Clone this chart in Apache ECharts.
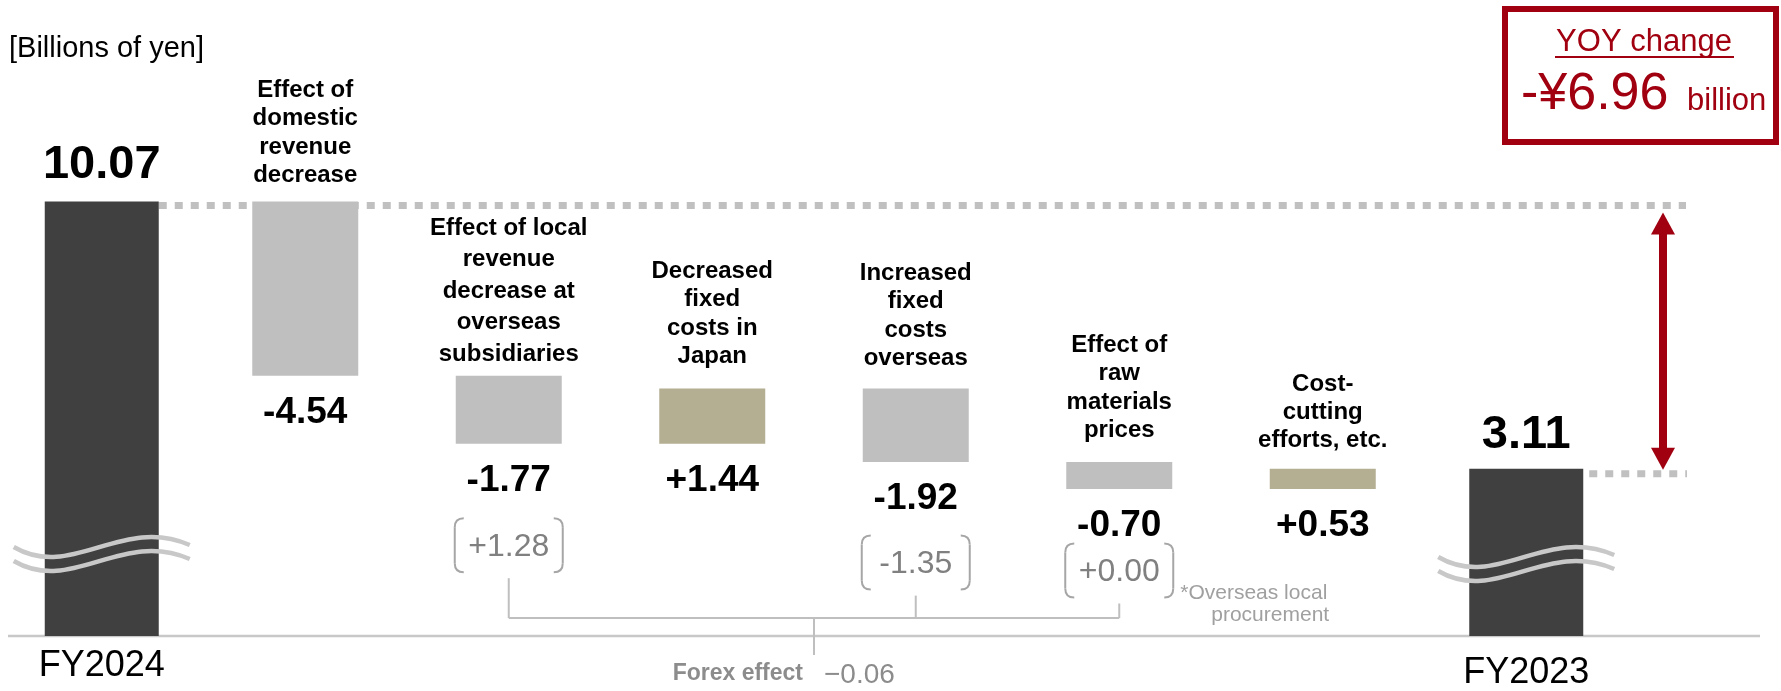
<!DOCTYPE html>
<html><head><meta charset="utf-8">
<script src="https://cdn.jsdelivr.net/npm/echarts@6/dist/echarts.min.js"></script>
<style>html,body{margin:0;padding:0;background:#fff}#c{width:1781px;height:691px}</style>
</head><body><div id="c"></div>
<script>
// ---------- data ----------
const categories = ['FY2024','Effect of\ndomestic\nrevenue\ndecrease','Effect of local\nrevenue\ndecrease at\noverseas\nsubsidiaries','Decreased\nfixed\ncosts in\nJapan','Increased\nfixed\ncosts\noverseas','Effect of\nraw\nmaterials\nprices','Cost-\ncutting\nefforts, etc.','FY2023'];
const startValue = 10.07;
const endValue = 3.11;
const deltas = [-4.54, -1.77, 1.44, -1.92, -0.70, 0.53];
const forexIndex = [2, 4, 5];
const forexValues = ['+1.28', '-1.35', '+0.00'];
const forexLabel = 'Forex effect';
const forexTotal = '\u22120.06';
const yoyTitle = 'YOY change';
const yoyValue = '-\u00a56.96';
const yoyUnit = 'billion';
const unitLabel = '[Billions of yen]';
const noteLines = ['*Overseas local', 'procurement'];

// ---------- layout / style ----------
const Y_MIN = -1.25, Y_MAX = 13;
const FONT = '"Liberation Sans", Arial, Helvetica, sans-serif';
const labelGap = [0, 17, 13, 23, 21, 23, 20, 0];
const labelLineHeight = [28.5, 28.5, 31.5, 28.5, 28.5, 28.5, 28, 28];
const totalLabelGap = [36, 0, 0, 0, 0, 0, 0, 34];
const bracketOffset = [64.5, 63.5, 44.5];
const RED = '#a0000f';

// ---------- build waterfall ----------
const barData = [];
barData.push([0, Y_MIN, startValue, 0]);
let run = startValue;
deltas.forEach((d, k) => {
  const next = +(run + d).toFixed(2);
  barData.push([k + 1, Math.min(run, next), Math.max(run, next), d]);
  run = next;
});
barData.push([categories.length - 1, Y_MIN, endValue, 0]);

function fmt(d) { return (d > 0 ? '+' : '-') + Math.abs(d).toFixed(2); }

function renderItem(params, api) {
  const i = api.value(0), lo = api.value(1), hi = api.value(2), d = api.value(3);
  const top = api.coord([i, hi]), bot = api.coord([i, lo]);
  const cx = top[0];
  const total = (i === 0 || i === categories.length - 1);
  const w = total ? 114 : 106;
  const color = total ? '#404040' : (d < 0 ? '#bfbfbf' : '#b4ae92');
  const children = [{
    type: 'rect', shape: { x: cx - w / 2, y: top[1], width: w, height: bot[1] - top[1] },
    style: { fill: color }
  }];
  if (total) {
    children.push({ type: 'text', x: cx, y: top[1] - totalLabelGap[i],
      style: { text: hi.toFixed(2), fontFamily: FONT, fontSize: 47, fontWeight: 'bold', fill: '#000', align: 'center', verticalAlign: 'middle' } });
  } else {
    const L = labelLineHeight[i];
    children.push({ type: 'text', x: cx, y: top[1] - labelGap[i] + L / 2 - 8.6,
      style: { text: categories[i], fontFamily: FONT, fontSize: 24, fontWeight: 'bold', lineHeight: L, fill: '#000', align: 'center', verticalAlign: 'bottom' } });
    children.push({ type: 'text', x: cx, y: bot[1] + 37,
      style: { text: fmt(d), fontFamily: FONT, fontSize: 37, fontWeight: 'bold', fill: '#000', align: 'center', verticalAlign: 'middle' } });
  }
  return { type: 'group', children };
}

const chart = echarts.init(document.getElementById('c'), null, { renderer: 'canvas' });
const option = {
  animation: false,
  backgroundColor: '#fff',
  grid: { left: 0, right: 153, top: 89, bottom: 53, containLabel: false },
  xAxis: {
    type: 'category', data: categories,
    axisLine: { show: false }, axisTick: { show: false }, splitLine: { show: false },
    axisLabel: {
      interval: 0, margin: 12,
      formatter: (v, i) => i === 0 ? '{a|' + v + '}' : (i === categories.length - 1 ? '{b|' + v + '}' : ''),
      rich: {
        a: { fontSize: 36, fontFamily: FONT, color: '#000', lineHeight: 36 },
        b: { fontSize: 36, fontFamily: FONT, color: '#000', lineHeight: 50 }
      }
    }
  },
  yAxis: { type: 'value', min: Y_MIN, max: Y_MAX, show: false },
  series: [{
    type: 'custom', renderItem, data: barData, z: 5,
    encode: { x: 0, y: [1, 2] }
  }]
};
chart.setOption(option);

// ---------- annotations ----------
const px = (i, v) => chart.convertToPixel({ gridIndex: 0 }, [i, v]);
const axisY = px(0, Y_MIN)[1];
const g = [];
const GRAYLINE = '#bfbfbf';
function seg(x1, y1, x2, y2, stroke, lw, z, dash) {
  const st = { stroke, lineWidth: lw };
  if (dash) st.lineDash = dash;
  g.push({ type: 'line', z, shape: { x1, y1, x2, y2 }, style: st });
}
function curve(x1, y1, cpx1, cpy1, cpx2, cpy2, x2, y2, stroke, lw, z) {
  const shape = { x1, y1, x2, y2, cpx1, cpy1 };
  if (cpx2 !== null) { shape.cpx2 = cpx2; shape.cpy2 = cpy2; }
  g.push({ type: 'bezierCurve', z, shape, style: { stroke, lineWidth: lw, fill: null } });
}
// axis baseline
seg(8, axisY, 1760, axisY, '#c8c8c8', 2.5, 1);
// dotted reference lines
const pS = px(0, startValue), pE = px(categories.length - 1, endValue);
seg(pS[0] + 57, pS[1] + 4, 1686, pS[1] + 4, '#c0c0c0', 7, 1, [8, 8]);
seg(pE[0] + 63, pE[1] + 5, 1687, pE[1] + 5, '#c0c0c0', 7, 1, [8, 8]);
// double arrow
const ax = 1663, aTop = pS[1] + 11, aBot = pE[1] + 1;
g.push({ type: 'rect', z: 10, shape: { x: ax - 4, y: aTop + 20, width: 8, height: aBot - aTop - 40 }, style: { fill: RED } });
g.push({ type: 'polygon', z: 10, shape: { points: [[ax, aTop], [ax - 12, aTop + 22], [ax + 12, aTop + 22]] }, style: { fill: RED } });
g.push({ type: 'polygon', z: 10, shape: { points: [[ax, aBot], [ax - 12, aBot - 22], [ax + 12, aBot - 22]] }, style: { fill: RED } });
// YOY box
g.push({ type: 'rect', z: 10, shape: { x: 1505, y: 9, width: 271, height: 133 }, style: { fill: '#fff', stroke: RED, lineWidth: 6 } });
g.push({ type: 'text', z: 11, x: 1644, y: 42, style: { text: yoyTitle, fontFamily: FONT, fontSize: 31, fill: RED, align: 'center', verticalAlign: 'middle' } });
seg(1555, 57, 1734, 57, RED, 2, 11);
g.push({ type: 'text', z: 11, x: 1521, y: 95, style: { text: yoyValue, fontFamily: FONT, fontSize: 52, fill: RED, align: 'left', verticalAlign: 'middle' } });
g.push({ type: 'text', z: 11, x: 1687, y: 101, style: { text: yoyUnit, fontFamily: FONT, fontSize: 31, fill: RED, align: 'left', verticalAlign: 'middle' } });
// unit label
g.push({ type: 'text', z: 11, x: 9, y: 49, style: { text: unitLabel, fontFamily: FONT, fontSize: 29, fill: '#000', align: 'left', verticalAlign: 'middle' } });
// axis break marks
[[0, 89], [categories.length - 1, 79]].forEach(([i, off]) => {
  const cx = px(i, 0)[0];
  [0, 14].forEach(dy => {
    const y0 = axisY - off + dy;
    curve(cx - 88, y0, cx - 30, y0 + 34, cx + 20, y0 - 32, cx + 88, y0 - 2, '#c8c8c8', 4.5, 12);
  });
});
// forex brackets
const hY = axisY - 18;
const bracketX = [];
let lastRight = 0, lastCenter = 0;
forexIndex.forEach((idx, k) => {
  const cx = px(idx, 0)[0];
  const bottom = px(idx, barData[idx][1])[1];
  const bc = bottom + 37 + bracketOffset[k];
  const x0 = cx - 54, x1 = cx + 54, y0 = bc - 27, y1 = bc + 27, r = 9;
  [[x0, 1], [x1, -1]].forEach(([x, s]) => {
    curve(x + s * r, y0, x, y0, null, null, x, y0 + r, '#a6a6a6', 2, 10);
    seg(x, y0 + r, x, y1 - r, '#a6a6a6', 2, 10);
    curve(x, y1 - r, x, y1, null, null, x + s * r, y1, '#a6a6a6', 2, 10);
  });
  g.push({ type: 'text', z: 10, x: cx, y: bc + 1.5, style: { text: forexValues[k], fontFamily: FONT, fontSize: 32, fill: '#808080', align: 'center', verticalAlign: 'middle' } });
  seg(cx, y1 + 6, cx, hY, GRAYLINE, 2, 10);
  bracketX.push(cx);
  lastRight = x1; lastCenter = bc;
});
const fxL = bracketX[0], fxR = bracketX[bracketX.length - 1], fxM = (fxL + fxR) / 2;
seg(fxL, hY, fxR, hY, GRAYLINE, 2, 10);
seg(fxM, hY, fxM, axisY + 19, GRAYLINE, 2, 10);
g.push({ type: 'text', z: 10, x: fxM - 11, y: axisY + 38, style: { text: forexLabel, fontFamily: FONT, fontSize: 23, fontWeight: 'bold', fill: '#8c8c8c', align: 'right', verticalAlign: 'middle' } });
g.push({ type: 'text', z: 10, x: fxM + 10, y: axisY + 39, style: { text: forexTotal, fontFamily: FONT, fontSize: 28, fill: '#8c8c8c', align: 'left', verticalAlign: 'middle' } });
// note
g.push({ type: 'text', z: 10, x: lastRight + 7, y: lastCenter + 23, style: { text: noteLines[0], fontFamily: FONT, fontSize: 21, fill: '#a0a0a0', align: 'left', verticalAlign: 'middle' } });
g.push({ type: 'text', z: 10, x: lastRight + 38, y: lastCenter + 45, style: { text: noteLines[1], fontFamily: FONT, fontSize: 21, fill: '#a0a0a0', align: 'left', verticalAlign: 'middle' } });

chart.setOption({ graphic: { elements: g } });
</script>
</body></html>
